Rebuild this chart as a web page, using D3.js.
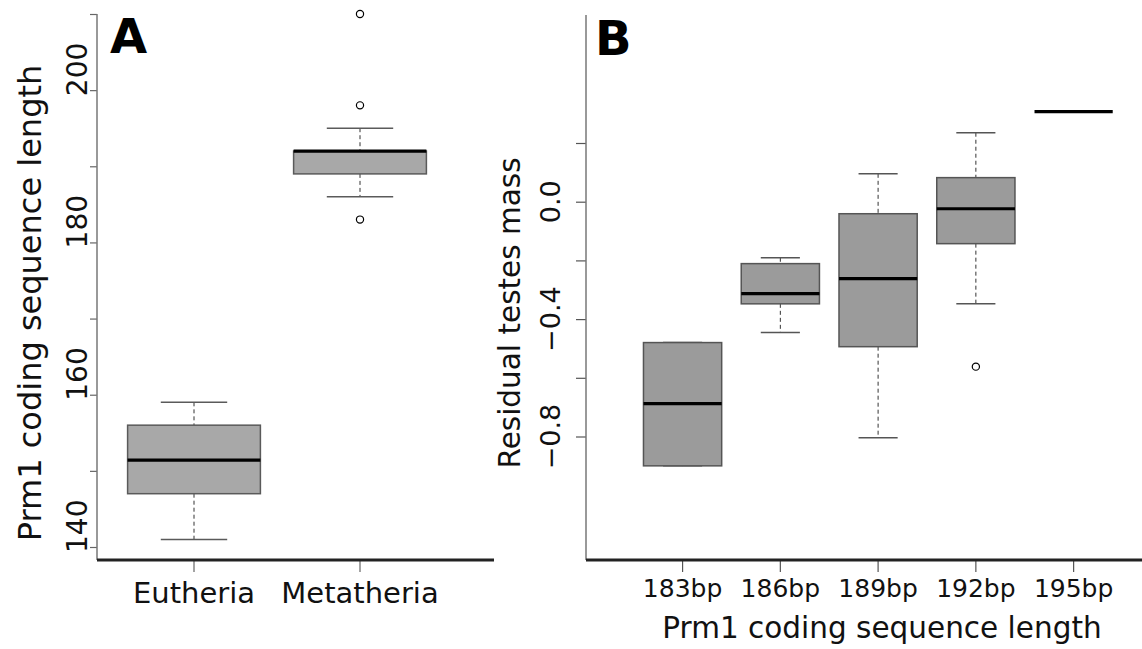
<!DOCTYPE html>
<html>
<head>
<meta charset="utf-8">
<script src="https://cdn.jsdelivr.net/npm/d3@7.9.0/dist/d3.min.js"></script>
<style>
  body { margin: 0; background: #fff; }
  svg { display: block; font-family: "DejaVu Sans", sans-serif; }
</style>
</head>
<body>
<svg id="chart" width="1142" height="649"></svg>
<script>
// panel A: Prm1 length by clade
const cladeNames = ['Eutheria', 'Metatheria'];
const cladeStats = [
  { low: 141, q1: 147, med: 151.4, q3: 156, high: 159, out: [] },
  { low: 186, q1: 189, med: 192, q3: 192, high: 195, out: [210, 198, 183] }
];
const lengthTicks = [140, 150, 160, 170, 180, 190, 200, 210];
const lengthLabels = [140, 160, 180, 200];

// panel B: residual testes mass by Prm1 length
const bpNames = ['183bp', '186bp', '189bp', '192bp', '195bp'];
const bpStats = [
  { low: -0.90, q1: -0.90, med: -0.688, q3: -0.48, high: -0.48, out: [] },
  { low: -0.446, q1: -0.348, med: -0.313, q3: -0.211, high: -0.191, out: [] },
  { low: -0.804, q1: -0.494, med: -0.262, q3: -0.041, high: 0.095, out: [] },
  { low: -0.348, q1: -0.143, med: -0.024, q3: 0.082, high: 0.235, out: [-0.562] },
  { low: 0.307, q1: 0.307, med: 0.307, q3: 0.307, high: 0.307, out: [] }
];
const residTicks = [0.2, 0.0, -0.2, -0.4, -0.6, -0.8];
const residLabels = [0.0, -0.4, -0.8];

const svg = d3.select('#chart');
const fmt = v => d3.format('.1f')(v).replace('-', '\u2212');

function drawBoxes(g, names, stats, x, y, fill, stroke) {
  const bw = x.bandwidth() * 0.8;
  names.forEach((name, i) => {
    const s = stats[i];
    const cx = x(name) + x.bandwidth() / 2;
    const single = s.low === s.high;
    if (!single) {
      // whiskers
      g.append('line').attr('x1', cx).attr('x2', cx).attr('y1', y(s.high)).attr('y2', y(s.q3))
        .attr('stroke', '#333').attr('stroke-width', 1).attr('stroke-dasharray', '4,3');
      g.append('line').attr('x1', cx).attr('x2', cx).attr('y1', y(s.q1)).attr('y2', y(s.low))
        .attr('stroke', '#333').attr('stroke-width', 1).attr('stroke-dasharray', '4,3');
      [s.high, s.low].forEach(v => {
        g.append('line').attr('x1', cx - bw / 4).attr('x2', cx + bw / 4).attr('y1', y(v)).attr('y2', y(v))
          .attr('stroke', stroke).attr('stroke-width', 1.5);
      });
      g.append('rect').attr('x', cx - bw / 2).attr('width', bw)
        .attr('y', y(s.q3)).attr('height', Math.max(0, y(s.q1) - y(s.q3)))
        .attr('fill', fill).attr('stroke', stroke).attr('stroke-width', 1.5);
    }
    g.append('line').attr('x1', cx - bw / 2).attr('x2', cx + bw / 2).attr('y1', y(s.med)).attr('y2', y(s.med))
      .attr('stroke', '#000').attr('stroke-width', 3.2);
    s.out.forEach(v => {
      g.append('circle').attr('cx', cx).attr('cy', y(v)).attr('r', 3.6)
        .attr('fill', 'none').attr('stroke', '#000').attr('stroke-width', 1.2);
    });
  });
}

// ---------- Panel A ----------
const xA = d3.scaleBand().domain(cladeNames).range([111, 443]).padding(0);
const yA = d3.scaleLinear().domain([140, 210]).range([547, 14]);
const gA = svg.append('g');

gA.append('g').attr('transform', 'translate(97,0)')
  .call(d3.axisLeft(yA).tickValues(lengthTicks).tickSize(7).tickFormat(''))
  .call(a => a.select('.domain').remove())
  .call(a => a.selectAll('line').attr('stroke', '#666').attr('stroke-width', 1.2));
gA.append('line').attr('x1', 97).attr('x2', 97).attr('y1', 14).attr('y2', 560)
  .attr('stroke', '#777').attr('stroke-width', 1.5);

gA.selectAll('.ylab').data(lengthLabels).join('text')
  .attr('transform', d => `translate(87,${yA(d) + 6}) rotate(-90)`)
  .attr('font-size', 28).attr('fill', '#111')
  .text(d => d);

gA.append('g').attr('transform', 'translate(0,560)')
  .call(d3.axisBottom(xA).tickSize(12).tickFormat(''))
  .call(a => a.select('.domain').remove())
  .call(a => a.selectAll('line').attr('stroke', '#666').attr('stroke-width', 1.2));
gA.append('line').attr('x1', 97).attr('x2', 494).attr('y1', 560).attr('y2', 560)
  .attr('stroke', '#222').attr('stroke-width', 3);

gA.selectAll('.xlab').data(cladeNames).join('text')
  .attr('x', d => xA(d) + xA.bandwidth() / 2).attr('y', 603)
  .attr('text-anchor', 'middle').attr('font-size', 29).attr('fill', '#111')
  .text(d => d);

gA.append('text').attr('transform', 'translate(41,303) rotate(-90)')
  .attr('text-anchor', 'middle').attr('font-size', 32).attr('fill', '#111')
  .text('Prm1 coding sequence length');

gA.append('text').attr('x', 110).attr('y', 53)
  .attr('font-size', 48).attr('font-weight', 'bold').text('A');

drawBoxes(gA, cladeNames, cladeStats, xA, yA, '#a8a8a8', '#5a5a5a');

// ---------- Panel B ----------
const xB = d3.scaleBand().domain(bpNames).range([633.7, 1122.5]).padding(0);
const yB = d3.scaleLinear().domain([-0.8, 0.2]).range([436.5, 143]);
const gB = svg.append('g');

gB.append('g').attr('transform', 'translate(586,0)')
  .call(d3.axisLeft(yB).tickValues(residTicks).tickSize(10).tickFormat(''))
  .call(a => a.select('.domain').remove())
  .call(a => a.selectAll('line').attr('stroke', '#555').attr('stroke-width', 1.2));
gB.append('line').attr('x1', 586).attr('x2', 586).attr('y1', 15).attr('y2', 560)
  .attr('stroke', '#777').attr('stroke-width', 1.5);

gB.selectAll('.ylab').data(residLabels).join('text')
  .attr('transform', d => `translate(560,${yB(d)}) rotate(-90)`)
  .attr('text-anchor', 'middle').attr('font-size', 27).attr('fill', '#111')
  .text(d => fmt(d));

gB.append('g').attr('transform', 'translate(0,560)')
  .call(d3.axisBottom(xB).tickSize(12).tickFormat(''))
  .call(a => a.select('.domain').remove())
  .call(a => a.selectAll('line').attr('stroke', '#555').attr('stroke-width', 1.2));
gB.append('line').attr('x1', 586).attr('x2', 1142).attr('y1', 560).attr('y2', 560)
  .attr('stroke', '#222').attr('stroke-width', 3);

gB.selectAll('.xlab').data(bpNames).join('text')
  .attr('x', d => xB(d) + xB.bandwidth() / 2).attr('y', 597)
  .attr('text-anchor', 'middle').attr('font-size', 25).attr('fill', '#111')
  .text(d => d);

gB.append('text').attr('x', 882).attr('y', 638)
  .attr('text-anchor', 'middle').attr('font-size', 29.5).attr('fill', '#111')
  .text('Prm1 coding sequence length');

gB.append('text').attr('transform', 'translate(520,313) rotate(-90)')
  .attr('text-anchor', 'middle').attr('font-size', 29.5).attr('fill', '#111')
  .text('Residual testes mass');

gB.append('text').attr('x', 595).attr('y', 55)
  .attr('font-size', 48).attr('font-weight', 'bold').text('B');

drawBoxes(gB, bpNames, bpStats, xB, yB, '#9b9b9b', '#555');
</script>
</body>
</html>
